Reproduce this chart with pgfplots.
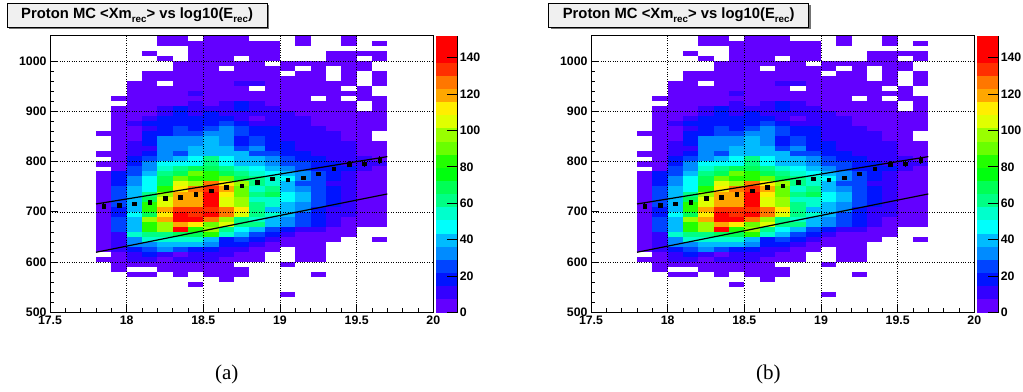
\documentclass[border=0pt]{standalone}
\usepackage{fontspec}
\setmainfont{Liberation Sans}
\newfontfamily\capfont{Liberation Serif}
\usepackage{pgfplots}
\usepackage{pgfplotstable}
\pgfplotsset{compat=1.18}

% counts per cell: row k covers [500+10k, 510+10k], column cI covers [17.8+0.1I, 17.9+0.1I]
\pgfplotstableread{
k c0 c1 c2 c3 c4 c5 c6 c7 c8 c9 c10 c11 c12 c13 c14 c15 c16 c17 c18
54 0 0 0 0 4 4 0 4 4 4 0 0 0 4 0 0 4 0 0
53 0 0 0 0 4 4 4 4 4 4 4 4 0 4 0 0 4 0 4
52 0 0 0 0 0 0 4 4 4 4 4 4 0 0 0 0 0 0 0
51 0 0 0 4 0 0 4 4 4 4 4 4 0 0 0 4 4 4 4
50 0 0 0 0 4 0 4 4 4 0 4 4 0 0 0 4 4 0 4
49 0 0 0 0 0 4 4 4 4 4 4 0 4 4 4 4 4 4 0
48 0 0 0 0 0 4 4 4 0 4 4 4 4 0 4 0 4 4 0
47 0 0 0 4 4 4 4 4 4 4 4 4 0 4 4 0 4 0 4
46 0 0 0 4 4 4 4 4 4 4 4 4 4 4 4 0 4 0 4
45 0 0 4 4 0 4 4 4 4 11 11 4 4 4 4 4 4 0 4
44 0 0 4 4 4 4 4 4 4 4 0 4 4 4 4 4 0 4 0
43 0 0 4 4 4 4 11 4 4 4 4 4 4 4 4 4 4 4 0
42 0 4 4 4 4 4 4 4 4 4 4 4 4 4 0 4 0 4 4
41 0 0 4 4 4 4 11 4 11 19 11 4 4 4 4 4 4 0 4
40 0 4 4 4 11 19 11 11 11 19 11 11 4 4 4 4 4 0 4
39 0 4 4 4 11 19 11 19 11 11 11 11 11 4 4 4 4 4 4
38 0 4 4 11 19 19 19 19 19 11 4 11 11 11 4 4 4 4 4
37 0 4 11 19 19 19 19 19 27 19 11 11 11 11 4 4 4 4 4
36 0 4 4 11 19 27 19 27 34 27 19 19 11 11 11 4 4 4 4
35 4 4 4 19 19 27 27 34 34 27 19 19 11 11 11 11 4 4 0
34 0 4 4 19 34 34 34 42 34 19 27 19 11 11 11 11 4 4 0
33 0 4 11 19 34 34 34 42 34 19 27 19 19 11 11 11 11 4 4
32 0 4 11 11 34 34 42 42 42 27 34 19 19 11 11 11 11 4 4
31 4 4 11 19 34 27 42 42 42 42 27 27 19 19 11 11 11 4 4
30 0 4 19 27 34 42 49 65 49 42 42 34 27 19 19 11 11 11 4
29 4 4 19 34 49 49 49 65 49 42 42 34 27 27 19 19 11 11 11
28 0 4 27 34 57 65 72 72 65 57 49 42 34 27 19 19 19 11 4
27 4 19 27 42 65 72 87 80 72 65 57 49 42 34 27 19 11 4 4
26 4 19 34 49 72 87 80 80 87 72 65 57 49 34 27 19 11 4 4
25 4 19 34 49 72 103 95 125 110 95 65 57 42 27 27 11 11 4 4
24 4 27 42 49 80 110 125 133 118 87 57 65 42 34 27 19 11 4 4
23 4 27 42 65 95 118 118 141 110 87 65 72 49 42 27 19 11 4 4
22 4 27 42 72 103 118 118 148 103 95 57 57 49 42 27 19 11 4 4
21 4 27 42 80 103 118 118 148 103 95 65 57 42 34 27 19 11 4 4
20 4 19 42 80 118 133 133 133 125 110 65 42 42 34 19 11 11 4 4
19 4 19 49 72 110 148 133 148 125 103 65 57 42 27 19 11 11 4 4
18 4 27 42 95 118 148 141 125 95 65 57 42 34 27 19 11 4 4 4
17 4 27 42 80 95 118 110 87 103 65 65 42 34 27 19 11 4 4 4
16 4 27 42 80 95 141 80 95 65 49 42 27 19 11 11 4 4 0 0
15 4 11 57 65 65 72 72 80 57 42 27 19 11 4 4 4 4 0 0
14 4 11 34 57 57 57 57 42 19 27 19 11 4 4 4 4 0 0 4
13 4 11 34 34 42 42 42 34 19 19 11 4 4 4 4 0 0 0 0
12 4 11 19 27 34 27 19 19 11 11 4 4 0 4 4 0 0 0 0
11 0 4 11 19 11 4 11 11 11 4 4 0 0 4 4 0 0 0 0
10 4 4 11 11 4 11 11 11 4 4 4 0 0 4 4 0 0 0 0
9 0 4 4 4 4 4 4 4 4 0 0 0 4 0 0 0 0 0 0
8 0 4 0 0 4 4 4 4 4 4 0 0 0 0 0 0 0 0 0
7 0 0 4 4 0 4 0 4 4 4 0 0 0 0 4 0 0 0 0
6 0 0 0 0 0 0 0 0 4 0 0 0 0 0 0 0 0 0 0
5 0 0 0 0 0 0 4 0 0 0 0 0 0 0 0 0 0 0 0
3 0 0 0 0 0 0 0 0 0 0 0 0 4 0 0 0 0 0 0
}\histdata

\pgfplotstableread{
x y e
17.85 711.5 7
17.95 712.9 4
18.05 716.2 3
18.15 719.5 2.5
18.25 726.8 2
18.35 729.4 2
18.45 735.4 2
18.55 741.4 2
18.65 748.7 2
18.75 752.0 2
18.85 758.6 2
18.95 765.3 2.5
19.05 763.3 2.5
19.15 767.9 3
19.25 775.9 4
19.35 785.8 4
19.45 795.1 5
19.55 795.8 6
19.65 802.4 8
}\profdata

\pgfdeclareplotmark{cell}{%
  \pgfpathrectangle{\pgfqpoint{-7.8pt}{-2.66pt}}{\pgfqpoint{15.6pt}{5.32pt}}%
  \pgfusepathqfill}

\newcommand\tickfont{\bfseries\fontsize{12.3}{14}\selectfont}
\newcommand\sub[1]{\raisebox{-4.5pt}{\fontsize{9.8}{10}\selectfont #1}}
\newcommand\titletext{\bfseries\fontsize{14.8}{16}\selectfont Proton MC <Xm\sub{rec}> vs log10(E\sub{rec})}

\pgfplotsset{
  rootaxis/.style={
    x=153.33pt, y=0.5027pt,
    xmin=17.5, xmax=20, ymin=500, ymax=1050,
    anchor=south west,
    axis on top,
    clip marker paths=true,
    scaled ticks=false,
    xtick={17.5,18,18.5,19,19.5,20},
    ytick={500,600,700,800,900,1000},
    minor x tick num=4, minor y tick num=4,
    tick align=inside,
    xtick pos=bottom, ytick pos=left,
    major tick length=8pt, minor tick length=4pt,
    grid=major,
    major grid style={black, line width=0.45pt, dash pattern=on 0.7pt off 1.7pt},
    tick style={black, line width=0.7pt},
    axis line style={black, line width=1pt},
    ticklabel style={font=\tickfont},
    /pgf/number format/assume math mode=true,
    /pgf/number format/1000 sep={},
    colormap={root}{rgb255=(99,0,255); rgb255=(51,0,255); rgb255=(0,20,255); rgb255=(0,68,255);
      rgb255=(0,139,255); rgb255=(0,187,255); rgb255=(0,255,252); rgb255=(0,255,204);
      rgb255=(0,255,133); rgb255=(0,255,85); rgb255=(0,255,14); rgb255=(34,255,0);
      rgb255=(105,255,0); rgb255=(153,255,0); rgb255=(224,255,0); rgb255=(255,238,0);
      rgb255=(255,167,0); rgb255=(255,119,0); rgb255=(255,48,0); rgb255=(255,0,0);
      rgb255=(255,0,0)},
    colormap access=piecewise constant,
    point meta min=0, point meta max=152,
    colorbar right,
    colorbar shift/.style={xshift=2.4pt},
    colorbar style={
      scale only axis,
      width=22pt,
      at={(parent axis.north east)}, anchor=north west,
      ytick={0,20,40,60,80,100,120,140},
      axis x line=none,
      axis y line*=right,
      tick align=inside,
      major tick length=11pt,
      tick style={black, line width=0.8pt},
      axis line style={black, line width=1pt},
      yticklabel style={font=\tickfont, xshift=-1.5pt},
      /pgf/number format/assume math mode=true,
    },
  },
}

\newcommand\histpanel[1]{%
  \begin{axis}[rootaxis, at={(#1)}]
    \pgfplotsinvokeforeach{0,...,18}{%
      \addplot[scatter, only marks, mark=cell, point meta=explicit,
        scatter/use mapped color={draw=mapped color, fill=mapped color}]
        table[x expr={17.85+0.1*##1},
              y expr={\thisrow{c##1}>0 ? 505+10*\thisrow{k} : nan},
              meta=c##1] {\histdata};
    }
    \addplot[black, line width=1.2pt] coordinates {(17.8,715.5) (19.7,809.7)};
    \addplot[black, line width=1.2pt] coordinates {(17.8,619.4) (19.7,735.4)};
    \addplot[only marks, mark=square*, mark size=1.75pt, black,
      error bars/.cd, y dir=both, y explicit, error mark=none,
      error bar style={black, line width=0.9pt}]
      table[x=x, y=y, y error=e] {\profdata};
  \end{axis}%
}

\begin{document}
\begin{tikzpicture}
\useasboundingbox (0,0) rectangle (1023pt,391pt);
\histpanel{50pt,78.7pt}
\histpanel{591pt,78.7pt}
% title boxes
\fill[black!55] (8.9pt,362.1pt) rectangle (268.9pt,386.1pt);
\node[draw=black, line width=0.8pt, fill=black!6, minimum width=260pt, minimum height=24pt,
  inner sep=0pt, anchor=north west] at (6.7pt,388.3pt) {\titletext};
\fill[black!55] (550.5pt,362.1pt) rectangle (810.5pt,386.1pt);
\node[draw=black, line width=0.8pt, fill=black!6, minimum width=260pt, minimum height=24pt,
  inner sep=0pt, anchor=north west] at (548.3pt,388.3pt) {\titletext};
% captions
\node[font=\capfont\fontsize{21}{24}\selectfont] at (226.7pt,17pt) {(a)};
\node[font=\capfont\fontsize{21}{24}\selectfont] at (768.3pt,17pt) {(b)};
\end{tikzpicture}
\end{document}
